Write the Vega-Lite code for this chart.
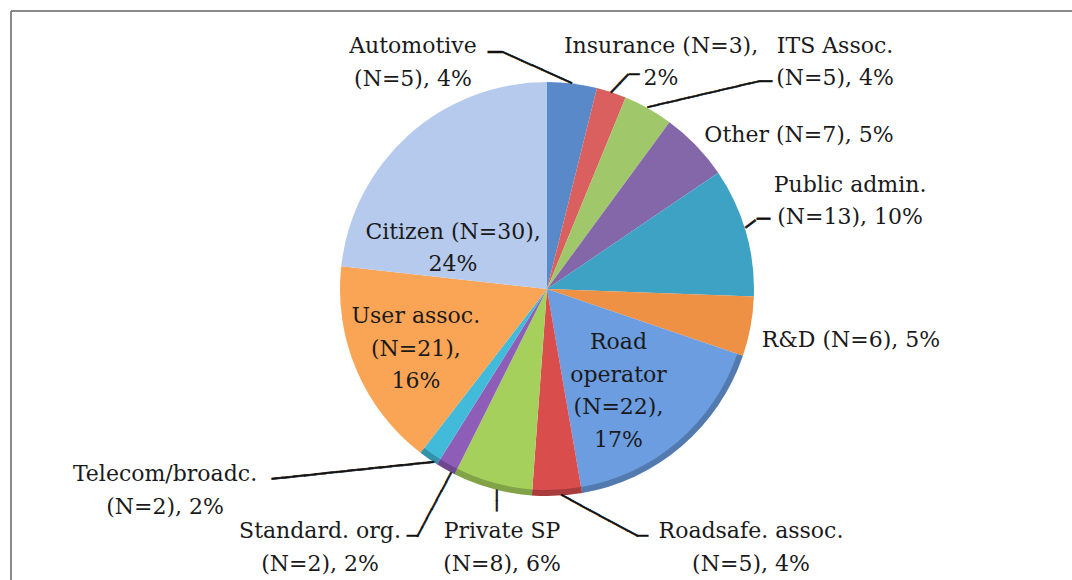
{
  "$schema": "https://vega.github.io/schema/vega-lite/v6.json",
  "width": 1072,
  "height": 600,
  "autosize": "none",
  "padding": {"left": 11, "top": 11, "right": 0, "bottom": 0},
  "background": "white",
  "config": {
    "view": {"stroke": null},
    "text": {"font": "DejaVu Serif", "fontSize": 22, "lineHeight": 32.5, "lineBreak": "\n", "color": "#1a1a1a", "align": "center", "baseline": "middle"}
  },
  "data": {"values": [
    {"idx": 1, "cat": "Automotive", "n": 5, "label": "Automotive\n(N=5), 4%"},
    {"idx": 2, "cat": "Insurance", "n": 3, "label": "Insurance (N=3),\n2%"},
    {"idx": 3, "cat": "ITS Assoc.", "n": 5, "label": "ITS Assoc.\n(N=5), 4%"},
    {"idx": 4, "cat": "Other", "n": 7, "label": "Other (N=7), 5%"},
    {"idx": 5, "cat": "Public admin.", "n": 13, "label": "Public admin.\n(N=13), 10%"},
    {"idx": 6, "cat": "R&D", "n": 6, "label": "R&D (N=6), 5%"},
    {"idx": 7, "cat": "Road operator", "n": 22, "label": "Road\noperator\n(N=22),\n17%"},
    {"idx": 8, "cat": "Roadsafe. assoc.", "n": 5, "label": "Roadsafe. assoc.\n(N=5), 4%"},
    {"idx": 9, "cat": "Private SP", "n": 8, "label": "Private SP\n(N=8), 6%"},
    {"idx": 10, "cat": "Standard. org.", "n": 2, "label": "Standard. org.\n(N=2), 2%"},
    {"idx": 11, "cat": "Telecom/broadc.", "n": 2, "label": "Telecom/broadc.\n(N=2), 2%"},
    {"idx": 12, "cat": "User assoc.", "n": 21, "label": "User assoc.\n(N=21),\n16%"},
    {"idx": 13, "cat": "Citizen", "n": 30, "label": "Citizen (N=30),\n24%"}
  ]},
  "layer": [
    {"data": {"values": [{}]}, "mark": {"type": "rule", "color": "#8a8a8a", "strokeWidth": 2}, "encoding": {"y": {"value": 0}}},
    {"data": {"values": [{}]}, "mark": {"type": "rule", "color": "#8a8a8a", "strokeWidth": 2}, "encoding": {"x": {"value": 0}}},
    {
      "encoding": {
        "theta": {"field": "n", "type": "quantitative", "stack": true},
        "order": {"field": "idx", "type": "quantitative"}
      },
      "layer": [
        {
          "mark": {"type": "arc", "outerRadius": 207, "yOffset": -22},
          "encoding": {
            "color": {
              "field": "cat", "type": "nominal", "legend": null,
              "scale": {
                "domain": ["Automotive", "Insurance", "ITS Assoc.", "Other", "Public admin.", "R&D", "Road operator", "Roadsafe. assoc.", "Private SP", "Standard. org.", "Telecom/broadc.", "User assoc.", "Citizen"],
                "range": ["#5A89C9", "#D9605E", "#A0C86A", "#8467A8", "#3DA2C3", "#EE9144", "#6B9DE0", "#D94D4D", "#A6D05C", "#8E5DB8", "#42BAD9", "#F9A555", "#B5CAEC"]
              }
            }
          }
        },
        {
          "mark": {"type": "arc", "innerRadius": 201, "outerRadius": 207, "yOffset": -22, "color": "#000000"},
          "encoding": {
            "opacity": {"condition": {"test": "indexof(['Road operator', 'Roadsafe. assoc.', 'Private SP', 'Standard. org.', 'Telecom/broadc.'], datum.cat) >= 0", "value": 0.22}, "value": 0}
          }
        },
        {"mark": {"type": "text", "radius": 207, "yOffset": -22, "dx": -159.2, "dy": -37.5},
         "encoding": {"text": {"condition": {"test": "datum.cat === 'Automotive'", "field": "label"}, "value": ""}}},
        {"mark": {"type": "text", "radius": 207, "yOffset": -22, "dx": 49.6, "dy": -46.3},
         "encoding": {"text": {"condition": {"test": "datum.cat === 'Insurance'", "field": "label"}, "value": ""}}},
        {"mark": {"type": "text", "radius": 207, "yOffset": -22, "dx": 186.7, "dy": -62.5},
         "encoding": {"text": {"condition": {"test": "datum.cat === 'ITS Assoc.'", "field": "label"}, "value": ""}}},
        {"mark": {"type": "text", "radius": 207, "yOffset": -22, "dx": 103, "dy": -10.3},
         "encoding": {"text": {"condition": {"test": "datum.cat === 'Other'", "field": "label"}, "value": ""}}},
        {"mark": {"type": "text", "radius": 207, "yOffset": -22, "dx": 104.1, "dy": -46.8},
         "encoding": {"text": {"condition": {"test": "datum.cat === 'Public admin.'", "field": "label"}, "value": ""}}},
        {"mark": {"type": "text", "radius": 207, "yOffset": -22, "dx": 100.4, "dy": 13.4},
         "encoding": {"text": {"condition": {"test": "datum.cat === 'R&D'", "field": "label"}, "value": ""}}},
        {"mark": {"type": "text", "radius": 130, "yOffset": -22, "dx": -12.9, "dy": -45.9},
         "encoding": {"text": {"condition": {"test": "datum.cat === 'Road operator'", "field": "label"}, "value": ""}}},
        {"mark": {"type": "text", "radius": 207, "yOffset": -22, "dx": 193.9, "dy": 35.3},
         "encoding": {"text": {"condition": {"test": "datum.cat === 'Roadsafe. assoc.'", "field": "label"}, "value": ""}}},
        {"mark": {"type": "text", "radius": 207, "yOffset": -22, "dx": 9.8, "dy": 42.4},
         "encoding": {"text": {"condition": {"test": "datum.cat === 'Private SP'", "field": "label"}, "value": ""}}},
        {"mark": {"type": "text", "radius": 207, "yOffset": -22, "dx": -125.7, "dy": 61.5},
         "encoding": {"text": {"condition": {"test": "datum.cat === 'Standard. org.'", "field": "label"}, "value": ""}}},
        {"mark": {"type": "text", "radius": 207, "yOffset": -22, "dx": -263.6, "dy": 15.2},
         "encoding": {"text": {"condition": {"test": "datum.cat === 'Telecom/broadc.'", "field": "label"}, "value": ""}}},
        {"mark": {"type": "text", "radius": 130, "yOffset": -22, "dx": -11.5, "dy": -23.8},
         "encoding": {"text": {"condition": {"test": "datum.cat === 'User assoc.'", "field": "label"}, "value": ""}}},
        {"mark": {"type": "text", "radius": 130, "yOffset": -22, "dx": -7.2, "dy": 39.8},
         "encoding": {"text": {"condition": {"test": "datum.cat === 'Citizen'", "field": "label"}, "value": ""}}},

        {"mark": {"type": "text", "font": "DejaVu Sans Mono", "color": "#111111", "stroke": "#111111", "strokeWidth": 0.6, "radius": 207, "yOffset": -22, "fontSize": 23, "angle": 0, "dx": -77.2, "dy": -30.5},
         "encoding": {"text": {"condition": {"test": "datum.cat === 'Automotive'", "value": "─"}, "value": ""}}},
        {"mark": {"type": "text", "font": "DejaVu Sans Mono", "color": "#111111", "stroke": "#111111", "strokeWidth": 0.6, "radius": 207, "yOffset": -22, "fontSize": 18, "angle": 24.2, "dx": -38.7, "dy": 0.9},
         "encoding": {"text": {"condition": {"test": "datum.cat === 'Automotive'", "value": "───────"}, "value": ""}}},
        {"mark": {"type": "text", "font": "DejaVu Sans Mono", "color": "#111111", "stroke": "#111111", "strokeWidth": 0.6, "radius": 207, "yOffset": -22, "fontSize": 17, "angle": 0, "dx": 22.6, "dy": -17.3},
         "encoding": {"text": {"condition": {"test": "datum.cat === 'Insurance'", "value": "─"}, "value": ""}}},
        {"mark": {"type": "text", "font": "DejaVu Sans Mono", "color": "#111111", "stroke": "#111111", "strokeWidth": 0.6, "radius": 207, "yOffset": -22, "fontSize": 20.6, "angle": -46.6, "dx": 12.25, "dy": 0.9},
         "encoding": {"text": {"condition": {"test": "datum.cat === 'Insurance'", "value": "──"}, "value": ""}}},
        {"mark": {"type": "text", "font": "DejaVu Sans Mono", "color": "#111111", "stroke": "#111111", "strokeWidth": 0.6, "radius": 207, "yOffset": -22, "fontSize": 20, "angle": 0, "dx": 117.7, "dy": -26.5},
         "encoding": {"text": {"condition": {"test": "datum.cat === 'ITS Assoc.'", "value": "─"}, "value": ""}}},
        {"mark": {"type": "text", "font": "DejaVu Sans Mono", "color": "#111111", "stroke": "#111111", "strokeWidth": 0.6, "radius": 207, "yOffset": -22, "fontSize": 17.4, "angle": -13.07, "dx": 57.3, "dy": -0.5},
         "encoding": {"text": {"condition": {"test": "datum.cat === 'ITS Assoc.'", "value": "───────────"}, "value": ""}}},
        {"mark": {"type": "text", "font": "DejaVu Sans Mono", "color": "#111111", "stroke": "#111111", "strokeWidth": 0.6, "radius": 207, "yOffset": -22, "fontSize": 21.6, "angle": 0, "dx": 17.6, "dy": -11.8},
         "encoding": {"text": {"condition": {"test": "datum.cat === 'Public admin.'", "value": "─"}, "value": ""}}},
        {"mark": {"type": "text", "font": "DejaVu Sans Mono", "color": "#111111", "stroke": "#111111", "strokeWidth": 0.6, "radius": 207, "yOffset": -22, "fontSize": 20, "angle": -36.9, "dx": 8.4, "dy": -2.8},
         "encoding": {"text": {"condition": {"test": "datum.cat === 'Public admin.'", "value": "─"}, "value": ""}}},
        {"mark": {"type": "text", "font": "DejaVu Sans Mono", "color": "#111111", "stroke": "#111111", "strokeWidth": 0.6, "radius": 207, "yOffset": -22, "fontSize": 18.3, "angle": 0, "dx": 85.4, "dy": 41.3},
         "encoding": {"text": {"condition": {"test": "datum.cat === 'Roadsafe. assoc.'", "value": "─"}, "value": ""}}},
        {"mark": {"type": "text", "font": "DejaVu Sans Mono", "color": "#111111", "stroke": "#111111", "strokeWidth": 0.6, "radius": 207, "yOffset": -22, "fontSize": 18, "angle": 28.35, "dx": 46.7, "dy": -1.6},
         "encoding": {"text": {"condition": {"test": "datum.cat === 'Roadsafe. assoc.'", "value": "────────"}, "value": ""}}},
        {"mark": {"type": "text", "font": "DejaVu Sans Mono", "color": "#111111", "stroke": "#111111", "strokeWidth": 0.6, "radius": 207, "yOffset": -22, "fontSize": 17.4, "angle": 90, "dx": 11.9, "dy": -3.8},
         "encoding": {"text": {"condition": {"test": "datum.cat === 'Private SP'", "value": "──"}, "value": ""}}},
        {"mark": {"type": "text", "font": "DejaVu Sans Mono", "color": "#111111", "stroke": "#111111", "strokeWidth": 0.6, "radius": 207, "yOffset": -22, "fontSize": 18.3, "angle": 0, "dx": -33.2, "dy": 67.5},
         "encoding": {"text": {"condition": {"test": "datum.cat === 'Standard. org.'", "value": "─"}, "value": ""}}},
        {"mark": {"type": "text", "font": "DejaVu Sans Mono", "color": "#111111", "stroke": "#111111", "strokeWidth": 0.6, "radius": 207, "yOffset": -22, "fontSize": 17.2, "angle": -62, "dx": -36.35, "dy": 7.2},
         "encoding": {"text": {"condition": {"test": "datum.cat === 'Standard. org.'", "value": "───────"}, "value": ""}}},
        {"mark": {"type": "text", "font": "DejaVu Sans Mono", "color": "#111111", "stroke": "#111111", "strokeWidth": 0.6, "radius": 207, "yOffset": -22, "fontSize": 18.04, "angle": -5.99, "dx": -76.5, "dy": 4.8},
         "encoding": {"text": {"condition": {"test": "datum.cat === 'Telecom/broadc.'", "value": "───────────────"}, "value": ""}}}
      ]
    }
  ]
}
